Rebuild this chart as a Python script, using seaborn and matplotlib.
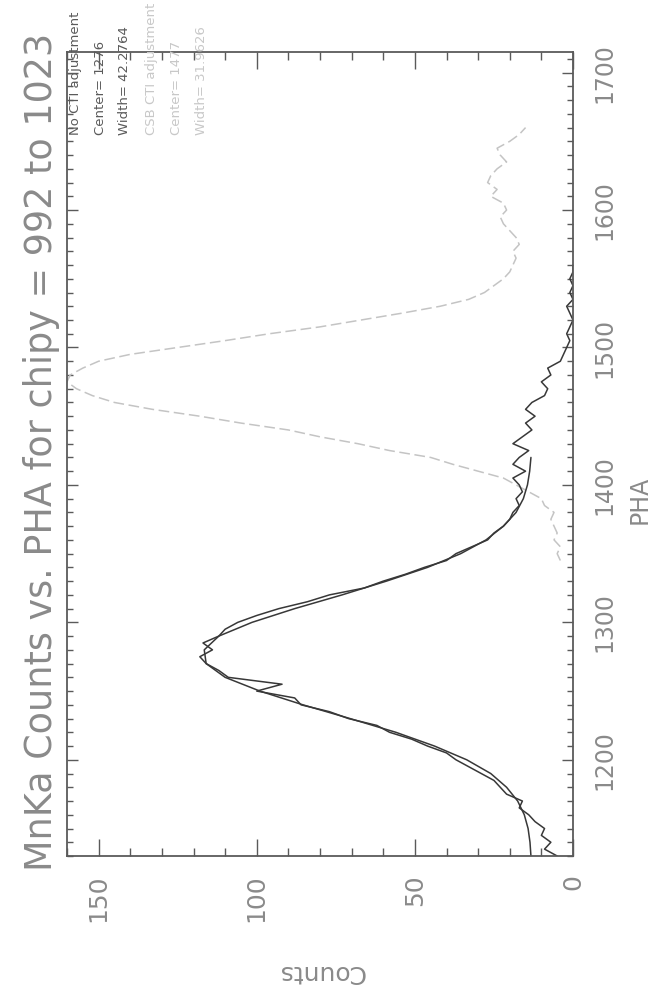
import numpy as np
import pandas as pd
import matplotlib
matplotlib.use("Agg")
import matplotlib.pyplot as plt
import seaborn as sns
from matplotlib.ticker import MultipleLocator

# ---------------- data ----------------
title = "MnKa Counts vs. PHA for chipy = 992 to 1023"
pha_label = "PHA"
counts_label = "Counts"
legend_dark = ["No CTI adjustment", "Center= 1276", "Width= 42.2764"]
legend_light = ["CSB CTI adjustment", "Center= 1477", "Width= 31.9626"]

# No CTI adjustment: histogram
raw_pha = np.arange(1130, 1565, 5)
raw_counts = [5, 9, 7, 10, 9, 12, 14, 17, 16, 21,
              23, 25, 29, 33, 37, 40, 46, 51, 58, 62,
              71, 77, 86, 88, 100, 92, 109, 112, 116, 118,
              114, 117, 112, 110, 106, 100, 93, 84, 77, 66,
              60, 53, 47, 40, 37, 32, 27, 25, 22, 20,
              19, 17, 18, 16, 17, 19, 15, 19, 17, 14,
              19, 16, 13, 15, 12, 15, 13, 9, 8, 10,
              7, 8, 4, 3, 2, 1, 2, 1, 0, 1,
              2, 0, 1, 0, 1, 0, 0]

# No CTI adjustment: fitted curve
fit_pha = np.arange(1130, 1430, 10)
fit_counts = [13.3, 13.6, 14.2, 15.4, 17.5, 21.0, 26.0, 33.6, 43.8, 56.0,
              70.5, 85.4, 99.0, 110.0, 116.0, 116.6, 112.0, 101.5, 88.0, 73.0,
              59.0, 46.0, 35.5, 27.5, 22.0, 18.0, 15.7, 14.4, 13.7, 13.3]

# CSB CTI adjustment: histogram
csb_pha = np.arange(1345, 1665, 5)
csb_counts = [4, 5, 4, 6, 5, 6, 7, 6, 9, 10,
              14, 18, 22, 30, 38, 45, 58, 68, 80, 90,
              105, 118, 133, 145, 152, 157, 160, 159, 155, 150,
              140, 125, 110, 96, 80, 67, 54, 42, 33, 28,
              25, 22, 20, 19, 18, 19, 17, 18, 20, 22,
              23, 21, 22, 26, 24, 27, 26, 24, 21, 23,
              24, 20, 17, 15]

count_ticks = [0, 50, 100, 150]
pha_ticks = [1200, 1300, 1400, 1500, 1600, 1700]

# ---------------- figure ----------------
sns.set_theme(style="white")
plt.rcParams['font.family'] = ['DejaVu Sans']

W, H = 655, 993
fig = plt.figure(figsize=(W / 100, H / 100), dpi=100)
fig.patch.set_facecolor("white")
ax = fig.add_axes([67 / W, 1 - 856 / H, (573 - 67) / W, (856 - 52) / H])
ax.set_facecolor("white")

df_raw = pd.DataFrame({"PHA": raw_pha, "Counts": raw_counts})
df_fit = pd.DataFrame({"PHA": fit_pha, "Counts": fit_counts})
df_csb = pd.DataFrame({"PHA": csb_pha, "Counts": csb_counts})

dark = "#383838"
light = "#c4c4c4"
sns.lineplot(data=df_csb, x="Counts", y="PHA", orient="y", estimator=None,
             color=light, lw=1.1, linestyle=(0, (7, 3)), ax=ax)
sns.lineplot(data=df_raw, x="Counts", y="PHA", orient="y", estimator=None,
             color=dark, lw=1.1, ax=ax)
sns.lineplot(data=df_fit, x="Counts", y="PHA", orient="y", estimator=None,
             color=dark, lw=1.1, ax=ax)

ax.set_xlim(160, 0)
ax.set_ylim(1130, 1715)
ax.set_xlabel("")
ax.set_ylabel("")

ax.set_xticks(count_ticks)
ax.set_xticklabels([str(t) for t in count_ticks])
ax.xaxis.set_minor_locator(MultipleLocator(10))
ax.set_yticks(pha_ticks)
ax.set_yticklabels([str(t) for t in pha_ticks])
ax.yaxis.set_minor_locator(MultipleLocator(10))

frame_col = "#5a5a5a"
text_col = "#8a8a8a"
for s in ax.spines.values():
    s.set_visible(True)
    s.set_color(frame_col)
    s.set_linewidth(1.3)

ax.tick_params(axis="x", which="both", direction="in", bottom=True, top=True,
               labelbottom=True, labeltop=False, color=frame_col,
               labelcolor=text_col, labelsize=18, labelrotation=90, pad=13)
ax.tick_params(axis="x", which="major", length=12, width=1)
ax.tick_params(axis="x", which="minor", length=6, width=1)
ax.tick_params(axis="y", which="both", direction="in", left=True, right=True,
               labelleft=False, labelright=True, color=frame_col,
               labelcolor=text_col, labelsize=17, labelrotation=90, pad=14)
ax.tick_params(axis="y", which="major", length=8, width=1)
ax.tick_params(axis="y", which="minor", length=4, width=1)
for lab in ax.get_yticklabels():
    lab.set_verticalalignment("center")

# title (rotated)
t = fig.text(42 / W, 1 - 452 / H, title, rotation=90, ha="center", va="center",
             fontsize=26, color=text_col)
fig.canvas.draw()
ext = t.get_window_extent()
t.set_fontsize(26 * 838 / ext.height)

fig.text(640 / W, 1 - 500 / H, pha_label, rotation=90, ha="center", va="center",
         fontsize=17, color=text_col)
fig.text(321 / W, 1 - 972 / H, counts_label, rotation=180, ha="center", va="center",
         fontsize=18, color=text_col)

# legend text (rotated columns at top-left)
xs = [75, 100, 125, 151, 176, 201]
for i, s in enumerate(legend_dark + legend_light):
    col = "#5a5a5a" if i < 3 else "#c8c8c8"
    fig.text(xs[i] / W, 1 - 135 / H, s, rotation=90, ha="center", va="bottom",
             fontsize=9.5, color=col)

fig.savefig("out.png", dpi=100, facecolor="white")
